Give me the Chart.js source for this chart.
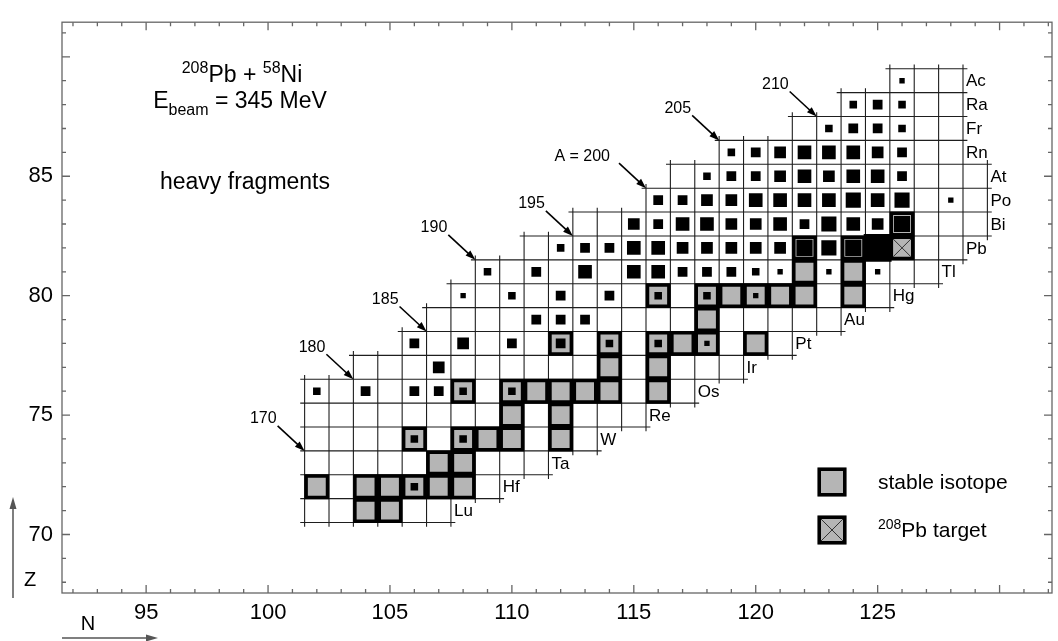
<!DOCTYPE html>
<html>
<head>
<meta charset="utf-8">
<title>208Pb + 58Ni – heavy fragments</title>
<script src="https://cdn.jsdelivr.net/npm/chart.js@4.4.1/dist/chart.umd.min.js"></script>
<style>
  html, body { margin: 0; padding: 0; background: #fff; }
  #wrap { position: relative; width: 1058px; height: 641px; }
</style>
</head>
<body>
<div id="wrap"><canvas id="chart"></canvas></div>
<script>
// ============================================================
// Nuclide chart of heavy fragments, 208Pb + 58Ni at 345 MeV
// ============================================================

// ── Chart rows: Z, first / last N drawn, element symbol ─────
const ROW_Z    = [ 71,  72,  73,  74,  75,  76,  77,  78,  79,  80,  81,  82,  83,  84,  85,  86,  87,  88,  89];
const ROW_NMIN = [102, 102, 102, 102, 102, 102, 104, 106, 107, 108, 109, 111, 113, 116, 117, 119, 122, 124, 126];
const ROW_NMAX = [107, 109, 111, 113, 115, 117, 119, 121, 123, 125, 127, 128, 129, 129, 129, 128, 128, 128, 128];
const ELEMENTS = ['Lu','Hf','Ta','W','Re','Os','Ir','Pt','Au','Hg','Tl','Pb','Bi','Po','At','Rn','Fr','Ra','Ac'];

// ── Stable isotopes, one list of N per Z ─────────────────────
const STABLE_ROW_Z = [71, 72, 73, 74, 75, 76, 77, 78, 79, 80, 81, 82, 83];
const STABLE_ROW_N = [
  [104, 105],
  [102, 104, 105, 106, 107, 108],
  [107, 108],
  [106, 108, 109, 110, 112],
  [110, 112],
  [108, 110, 111, 112, 113, 114, 116],
  [114, 116],
  [112, 114, 116, 117, 118, 120],
  [118],
  [116, 118, 119, 120, 121, 122, 124],
  [122, 124],
  [122, 124, 125, 126],
  [126]
];

// ── Target nucleus ───────────────────────────────────────────
const TARGET_N = [126];
const TARGET_Z = [82];

// ── Observed fragments: N per Z and yield class (1 small … 8 whole cell)
const FRAG_ROW_Z = [72, 74, 76, 77, 78, 79, 80, 81, 82, 83, 84, 85, 86, 87, 88, 89];
const FRAG_ROW_N = [
  [106],
  [106, 108],
  [102, 104, 106, 107, 108, 110],
  [107],
  [106, 108, 110, 112, 114, 116, 118],
  [111, 112, 113],
  [108, 110, 112, 114, 116, 118, 120],
  [109, 111, 113, 115, 116, 117, 118, 119, 120, 121, 123, 125],
  [112, 113, 114, 115, 116, 117, 118, 119, 120, 121, 122, 123, 124, 125],
  [115, 116, 117, 118, 119, 120, 121, 122, 123, 124, 125, 126],
  [116, 117, 118, 119, 120, 121, 122, 123, 124, 125, 126, 128],
  [118, 119, 120, 121, 122, 123, 124, 125, 126],
  [119, 120, 121, 122, 123, 124, 125, 126],
  [123, 124, 125, 126],
  [124, 125, 126],
  [126]
];
const FRAG_ROW_SIZE = [
  [2],
  [2, 2],
  [2, 3, 3, 3, 2, 2],
  [4],
  [3, 4, 3, 3, 2, 2, 1],
  [3, 3, 3],
  [1, 2, 3, 3, 2, 2, 1],
  [2, 3, 5, 5, 5, 3, 3, 3, 2, 1, 1, 1],
  [2, 3, 3, 5, 5, 4, 4, 4, 4, 4, 7, 6, 7, 8],
  [4, 3, 5, 5, 4, 4, 5, 3, 6, 5, 4, 7],
  [3, 3, 4, 4, 5, 5, 5, 5, 6, 5, 6, 1],
  [2, 3, 3, 4, 5, 4, 5, 5, 3],
  [2, 3, 4, 5, 5, 5, 4, 3],
  [2, 3, 3, 2],
  [2, 3, 2],
  [1]
];

// ── Mass-number markers: label and the cell the arrow points at
const MASS_LABELS = ['170', '180', '185', '190', '195', 'A = 200', '205', '210'];
const MASS_N      = [102, 104, 107, 109, 113, 116, 119, 123];
const MASS_Z      = [ 73,  76,  78,  81,  82,  84,  86,  87];

// ── Axis tick labels ─────────────────────────────────────────
const TICK_N = [95, 100, 105, 110, 115, 120, 125];
const TICK_Z = [70, 75, 80, 85];

// ------------------------------------------------------------
const FONT      = '"Liberation Sans", Arial, Helvetica, sans-serif';
const GRAY      = '#b5b5b5';
const LINE_COL  = '#1e1e1e';
const SIZE_FRAC = [0, 0.22, 0.31, 0.40, 0.48, 0.56, 0.62, 0.66];
const OVERHANG  = 0.18;   // grid lines stick out a little past each row

const cellPx = chart =>
  Math.abs(chart.scales.x.getPixelForValue(1) - chart.scales.x.getPixelForValue(0));

// grid lines as one broken polyline (null points split the segments)
function gridPoints() {
  const pts = [];
  ROW_Z.forEach((z, i) => {
    const n0 = ROW_NMIN[i] - 0.5, n1 = ROW_NMAX[i] + 0.5;
    [z - 0.5, z + 0.5].forEach(yy => {
      pts.push({ x: n0 - OVERHANG, y: yy }, { x: n1 + OVERHANG, y: yy }, { x: null, y: null });
    });
    for (let n = n0; n <= n1 + 1e-6; n += 1) {
      pts.push({ x: n, y: z - 0.5 - OVERHANG }, { x: n, y: z + 0.5 + OVERHANG }, { x: null, y: null });
    }
  });
  return pts;
}

const stablePts = [];
STABLE_ROW_Z.forEach((z, i) => STABLE_ROW_N[i].forEach(n => stablePts.push({ x: n, y: z })));

const fragPts = [];
FRAG_ROW_Z.forEach((z, i) =>
  FRAG_ROW_N[i].forEach((n, j) => fragPts.push({ x: n, y: z, size: FRAG_ROW_SIZE[i][j] })));

const targetPts = TARGET_N.map((n, i) => ({ x: n, y: TARGET_Z[i] }));

// ── text helpers ─────────────────────────────────────────────
function drawRich(ctx, parts, x, y, size, align) {
  const font = k => `${k ? Math.round(size * 0.68) : size}px ${FONT}`;
  let w = 0;
  parts.forEach(([t, k]) => { ctx.font = font(k); w += ctx.measureText(t).width; });
  let cx = align === 'center' ? x - w / 2 : x;
  ctx.textAlign = 'left';
  ctx.textBaseline = 'alphabetic';
  parts.forEach(([t, k]) => {
    ctx.font = font(k);
    const dy = k === 'sup' ? -size * 0.4 : k === 'sub' ? size * 0.3 : 0;
    ctx.fillText(t, cx, y + dy);
    cx += ctx.measureText(t).width;
  });
}

function arrow(ctx, x0, y0, x1, y1, head, halfW) {
  const a = Math.atan2(y1 - y0, x1 - x0), c = Math.cos(a), s = Math.sin(a);
  ctx.beginPath();
  ctx.moveTo(x0, y0);
  ctx.lineTo(x1 - c * head * 0.7, y1 - s * head * 0.7);
  ctx.stroke();
  ctx.beginPath();
  ctx.moveTo(x1, y1);
  ctx.lineTo(x1 - c * head + s * halfW, y1 - s * head - c * halfW);
  ctx.lineTo(x1 - c * head - s * halfW, y1 - s * head + c * halfW);
  ctx.closePath();
  ctx.fill();
}

// ── Decorations: frame, inner ticks, labels, legend ──────────
const decor = {
  id: 'decor',
  afterDatasetsDraw(chart) {
    const { ctx, chartArea: a, scales: { x, y } } = chart;
    ctx.save();

    // frame + inward ticks
    ctx.strokeStyle = '#666';
    ctx.lineWidth = 1.3;
    ctx.strokeRect(a.left, a.top, a.right - a.left, a.bottom - a.top);
    ctx.beginPath();
    for (let n = Math.ceil(x.min); n <= x.max; n++) {
      const px = x.getPixelForValue(n), len = n % 5 === 0 ? 8 : 4;
      ctx.moveTo(px, a.bottom); ctx.lineTo(px, a.bottom - len);
      ctx.moveTo(px, a.top);    ctx.lineTo(px, a.top + len);
    }
    for (let z = Math.ceil(y.min); z <= y.max; z++) {
      const py = y.getPixelForValue(z), len = z % 5 === 0 ? 8 : 4;
      ctx.moveTo(a.left, py);  ctx.lineTo(a.left + len, py);
      ctx.moveTo(a.right, py); ctx.lineTo(a.right - len, py);
    }
    ctx.stroke();

    ctx.fillStyle = '#000';

    // element symbols at the end of each row
    ctx.font = `17px ${FONT}`;
    ctx.textAlign = 'left';
    ctx.textBaseline = 'middle';
    ROW_Z.forEach((z, i) => {
      ctx.fillText(ELEMENTS[i], x.getPixelForValue(ROW_NMAX[i] + 0.5) + 3, y.getPixelForValue(z) + 1);
    });

    // mass-number arrows
    ctx.strokeStyle = '#000';
    ctx.lineWidth = 1.6;
    MASS_LABELS.forEach((lab, i) => {
      const tx = x.getPixelForValue(MASS_N[i] - 0.5);
      const ty = y.getPixelForValue(MASS_Z[i] + 0.5);
      const long = lab.length > 3;
      arrow(ctx, tx - 27, ty - 25, tx, ty, 10, 3.5);
      ctx.font = `16px ${FONT}`;
      ctx.textAlign = 'right';
      ctx.textBaseline = 'middle';
      ctx.fillText(lab, tx - (long ? 36 : 28), ty - 32);
    });

    // reaction text
    drawRich(ctx, [['208', 'sup'], ['Pb + ', ''], ['58', 'sup'], ['Ni', '']], 242, 82, 23, 'center');
    drawRich(ctx, [['E', ''], ['beam', 'sub'], [' = 345 MeV', '']], 240, 108, 23, 'center');
    drawRich(ctx, [['heavy fragments', '']], 245, 189, 23, 'center');

    // legend
    const box = (cx, cy, cross) => {
      ctx.fillStyle = GRAY;
      ctx.fillRect(cx - 14.5, cy - 14.5, 29, 29);
      ctx.strokeStyle = '#000';
      ctx.lineWidth = 3.5;
      ctx.strokeRect(cx - 12.75, cy - 12.75, 25.5, 25.5);
      if (cross) {
        ctx.strokeStyle = '#333';
        ctx.lineWidth = 1;
        ctx.beginPath();
        ctx.moveTo(cx - 11, cy - 11); ctx.lineTo(cx + 11, cy + 11);
        ctx.moveTo(cx + 11, cy - 11); ctx.lineTo(cx - 11, cy + 11);
        ctx.stroke();
      }
      ctx.fillStyle = '#000';
    };
    box(832, 482, false);
    box(832, 530, true);
    drawRich(ctx, [['stable isotope', '']], 878, 489, 21, 'left');
    drawRich(ctx, [['208', 'sup'], ['Pb target', '']], 878, 537, 21, 'left');

    // axis direction arrows
    ctx.strokeStyle = '#555';
    ctx.fillStyle = '#555';
    ctx.lineWidth = 1.5;
    arrow(ctx, 13, 598, 13, 497, 12, 3.5);
    arrow(ctx, 62, 638, 158, 638, 12, 3.5);
    ctx.fillStyle = '#000';
    ctx.font = `20px ${FONT}`;
    ctx.textAlign = 'center';
    ctx.textBaseline = 'middle';
    ctx.fillText('Z', 30, 580);
    ctx.fillText('N', 88, 624);

    ctx.restore();
  }
};

// ── Chart ────────────────────────────────────────────────────
new Chart(document.getElementById('chart').getContext('2d'), {
  type: 'scatter',
  data: {
    datasets: [
      {
        label: 'fragments',
        data: fragPts,
        order: 0,
        pointStyle: 'rect',
        pointRadius: ctx => {
          const s = ctx.raw ? ctx.raw.size : 1;
          const c = cellPx(ctx.chart);
          const side = s >= 8 ? c + 3.5 : c * SIZE_FRAC[s];
          return side / Math.SQRT2;
        },
        pointBackgroundColor: '#000',
        pointBorderWidth: 0
      },
      {
        label: 'target',
        data: targetPts,
        order: 1,
        pointStyle: 'crossRot',
        pointRadius: ctx => ((cellPx(ctx.chart) - 3) / 2 - 1.75) * Math.SQRT2,
        pointBorderColor: '#333',
        pointBorderWidth: 1
      },
      {
        label: 'stable isotope',
        data: stablePts,
        order: 2,
        pointStyle: 'rect',
        pointRadius: ctx => (cellPx(ctx.chart) - 3) / Math.SQRT2,
        pointBackgroundColor: GRAY,
        pointBorderColor: '#000',
        pointBorderWidth: 3.5
      },
      {
        label: 'grid',
        data: gridPoints(),
        order: 3,
        showLine: true,
        spanGaps: false,
        borderColor: LINE_COL,
        borderWidth: 1.1,
        pointRadius: 0,
        tension: 0
      }
    ]
  },
  options: {
    responsive: true,
    maintainAspectRatio: false,
    animation: false,
    events: [],
    layout: { padding: { left: 0, right: 6, top: 10, bottom: 0 } },
    plugins: {
      legend: { display: false },
      tooltip: { enabled: false }
    },
    scales: {
      x: {
        type: 'linear',
        min: 91.55,
        max: 132.15,
        grid: { display: false, drawTicks: false },
        border: { display: false },
        afterBuildTicks: s => { s.ticks = TICK_N.map(v => ({ value: v })); },
        afterFit: s => { s.height = 48; },
        ticks: { font: { family: FONT, size: 22 }, color: '#000', padding: 7, maxRotation: 0, autoSkip: false }
      },
      y: {
        type: 'linear',
        min: 67.55,
        max: 91.45,
        grid: { display: false, drawTicks: false },
        border: { display: false },
        afterBuildTicks: s => { s.ticks = TICK_Z.map(v => ({ value: v })); },
        afterFit: s => { s.width = 62; },
        ticks: { font: { family: FONT, size: 22 }, color: '#000', padding: 9, autoSkip: false }
      }
    }
  },
  plugins: [decor]
});
</script>
</body>
</html>
